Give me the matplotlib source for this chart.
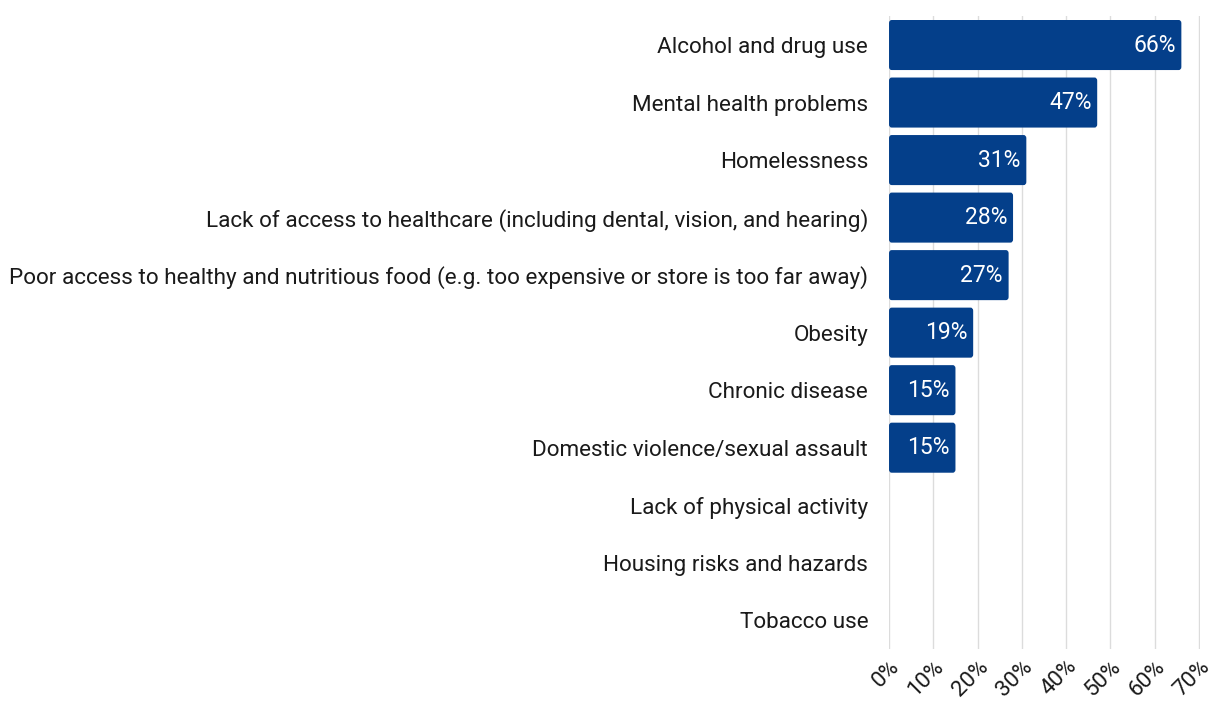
import matplotlib
matplotlib.use('Agg')
import matplotlib.pyplot as plt
from matplotlib.patches import FancyBboxPatch
import numpy as np

plt.rcParams['font.family'] = ['Roboto', 'DejaVu Sans']

issues = [
    "Alcohol and drug use",
    "Mental health problems",
    "Homelessness",
    "Lack of access to healthcare (including dental, vision, and hearing)",
    "Poor access to healthy and nutritious food (e.g. too expensive or store is too far away)",
    "Obesity",
    "Chronic disease",
    "Domestic violence/sexual assault",
    "Lack of physical activity",
    "Housing risks and hazards",
    "Tobacco use",
]
share = [66, 47, 31, 28, 27, 19, 15, 15, 0, 0, 0]
ticks = [0, 10, 20, 30, 40, 50, 60, 70]

bar_color = '#043f8a'
text_color = '#1a1a1a'

fig = plt.figure(figsize=(12.17, 7.07), dpi=100)
ax = fig.add_axes([0.7305, 0.082, 0.2555, 0.895])

y_pos = np.arange(len(issues))
bars = ax.barh(y_pos, share, height=0.87, color=bar_color, zorder=3)

# swap the plain rectangles for slightly rounded ones
for b in bars:
    if b.get_width() <= 0:
        continue
    rb = FancyBboxPatch((b.get_x(), b.get_y()), b.get_width(), b.get_height(),
                        boxstyle="round,pad=0,rounding_size=0.6",
                        mutation_aspect=0.09, facecolor=bar_color,
                        edgecolor='none', zorder=3)
    ax.add_patch(rb)
    b.set_visible(False)

for y, v in zip(y_pos, share):
    if v > 0:
        ax.text(v - 1.3, y, f"{v}%", color='white', ha='right', va='center',
                fontsize=16.5, zorder=4)

ax.set_xlim(0, 70.2)
ax.set_ylim(len(issues) - 0.5, -0.5)
ax.set_xticks(ticks)
ax.set_xticklabels([f"{t}%" for t in ticks], rotation=45, ha='right',
                   rotation_mode='anchor', fontsize=16, color=text_color)
ax.set_yticks(y_pos)
ax.set_yticklabels(issues, fontsize=16.2, color=text_color)
ax.tick_params(axis='both', length=0)
ax.tick_params(axis='y', pad=15)
ax.tick_params(axis='x', pad=5)
ax.grid(axis='x', color='#dcdcdc', linewidth=1, zorder=0)
for s in ax.spines.values():
    s.set_visible(False)

plt.savefig('out.png')
